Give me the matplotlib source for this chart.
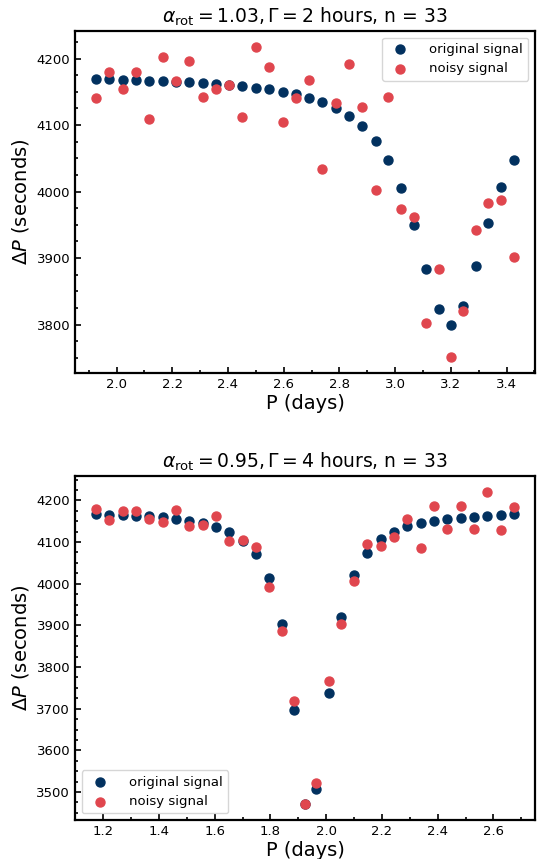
import matplotlib.pyplot as plt
from matplotlib.ticker import MultipleLocator

# period spacing pattern, alpha_rot = 1.03, Gamma = 2 h
P_top = [1.926, 1.974, 2.022, 2.069, 2.117, 2.165, 2.213, 2.261, 2.309, 2.357,
         2.405, 2.452, 2.500, 2.548, 2.596, 2.644, 2.692, 2.739, 2.787, 2.835,
         2.880, 2.930, 2.976, 3.022, 3.067, 3.112, 3.157, 3.200, 3.244, 3.289,
         3.334, 3.380, 3.427]
dP_orig_top = [4169, 4169, 4168, 4167.5, 4166.5, 4166, 4165, 4164, 4163, 4162,
               4160, 4158, 4155.5, 4153.5, 4149.5, 4146, 4140.5, 4134, 4125, 4113.5,
               4098, 4076, 4047, 4005.5, 3949.5, 3883, 3823, 3799.5, 3827.5, 3888.5,
               3953, 4007, 4048]
dP_noisy_top = [4140.5, 4179, 4154, 4180, 4108.5, 4202, 4166.5, 4197, 4142.5, 4153.5,
                4160, 4112, 4218, 4187.5, 4105, 4141, 4167, 4034, 4132.5, 4192,
                4127, 4003, 4142, 3973, 3961.5, 3803, 3883, 3750.5, 3820.5, 3942.5,
                3982, 3987.5, 3902]

# period spacing pattern, alpha_rot = 0.95, Gamma = 4 h
P_bot = [1.174, 1.222, 1.270, 1.318, 1.366, 1.414, 1.461, 1.509, 1.557, 1.605,
         1.653, 1.701, 1.749, 1.796, 1.840, 1.885, 1.923, 1.964, 2.009, 2.054,
         2.099, 2.147, 2.195, 2.243, 2.291, 2.339, 2.387, 2.435, 2.483, 2.530,
         2.578, 2.626, 2.674]
dP_orig_bot = [4168, 4165.6, 4164, 4162.4, 4161.6, 4159.2, 4155.2, 4151.2, 4145.6, 4136.8,
               4124, 4103, 4072, 4012.8, 3902.4, 3697.6, 3470.4, 3508, 3738.4, 3920,
               4021.6, 4074.4, 4106.4, 4124.8, 4137.6, 4145.6, 4151.2, 4155.2, 4158.4, 4160.8,
               4163.2, 4164.8, 4166.4]
dP_noisy_bot = [4178.4, 4153.6, 4174.4, 4174.4, 4155.2, 4148.8, 4177.6, 4137.6, 4140, 4161.6,
                4101.6, 4104.8, 4087.2, 3991.2, 3887.2, 3717.6, 3470.4, 3522.4, 3765.6, 3904,
                4006.4, 4095.2, 4089.6, 4112, 4155.2, 4085.6, 4186.4, 4131.2, 4186.4, 4130.4,
                4220, 4129.6, 4184.8]

blue = '#02315f'
red = '#e0464e'

fig = plt.figure(figsize=(5.44, 8.59), dpi=100)
ax1 = fig.add_axes([0.1379, 0.5658, 0.8456, 0.3981])
ax2 = fig.add_axes([0.1379, 0.0454, 0.8456, 0.4000])

panels = [
    (ax1, P_top, dP_orig_top, dP_noisy_top,
     r'$\alpha_{\rm rot} = 1.03, \Gamma = 2$ hours, n = 33', 'upper right'),
    (ax2, P_bot, dP_orig_bot, dP_noisy_bot,
     r'$\alpha_{\rm rot} = 0.95, \Gamma = 4$ hours, n = 33', 'lower left'),
]

for ax, P, orig, noisy, title, loc in panels:
    ax.scatter(P, orig, s=42, color=blue, label='original signal', zorder=2)
    ax.scatter(P, noisy, s=42, color=red, label='noisy signal', zorder=3)
    ax.set_title(title, fontsize=13.5)
    ax.set_xlabel('P (days)', fontsize=14, labelpad=2)
    ax.set_ylabel(r'$\Delta P$ (seconds)', fontsize=14)
    ax.xaxis.set_major_locator(MultipleLocator(0.2))
    ax.xaxis.set_minor_locator(MultipleLocator(0.1))
    ax.yaxis.set_major_locator(MultipleLocator(100))
    ax.yaxis.set_minor_locator(MultipleLocator(25))
    ax.tick_params(which='both', direction='in', labelsize=9.5, width=1.2)
    ax.tick_params(which='major', length=4.5)
    ax.tick_params(which='minor', length=2.5)
    for sp in ax.spines.values():
        sp.set_linewidth(1.6)
    ax.legend(loc=loc, fontsize=9.5, scatterpoints=1, handletextpad=1.2)

fig.savefig('out.png', dpi=100)
